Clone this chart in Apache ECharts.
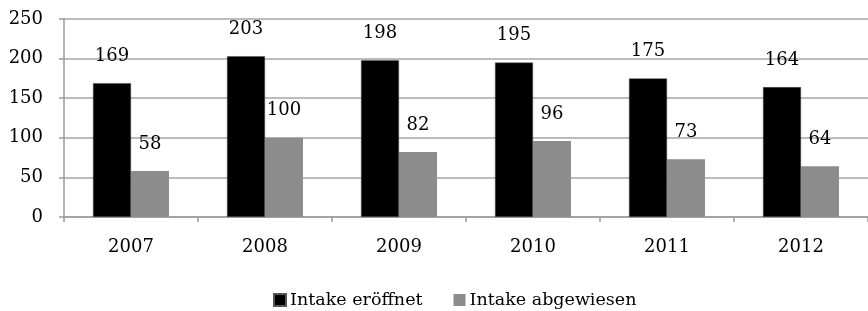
<!DOCTYPE html>
<html>
<head>
<meta charset="utf-8">
<script src="https://cdn.jsdelivr.net/npm/echarts@6/dist/echarts.min.js"></script>
<style>
  html, body { margin: 0; padding: 0; background: #fff; }
  #chart { width: 868px; height: 311px; }
</style>
</head>
<body>
<div id="chart"></div>
<script>
  // Daten aus dem Diagramm
  const years = ['2007', '2008', '2009', '2010', '2011', '2012']
  const eroeffnet = [169, 203, 198, 195, 175, 164]
  const abgewiesen = [58, 100, 82, 96, 73, 64]
  const seriesNames = ['Intake eröffnet', 'Intake abgewiesen']

  const font = '"DejaVu Serif", serif'
  const chart = echarts.init(document.getElementById('chart'))

  const label = {
    show: true,
    position: 'top',
    distance: 18,
    color: '#000',
    fontFamily: font,
    fontSize: 18
  }

  chart.setOption({
    animation: false,
    textStyle: { fontFamily: font },
    grid: { left: 64, right: 0, top: 19, bottom: 94 },
    legend: {
      bottom: 2,
      left: 273,
      padding: 0,
      itemWidth: 12,
      itemHeight: 12,
      itemGap: 31,
      icon: 'rect',
      textStyle: { fontFamily: font, fontSize: 17.5, color: '#000', padding: [0, 0, 0, -1] },
      data: seriesNames
    },
    xAxis: {
      type: 'category',
      data: years,
      axisLine: { lineStyle: { color: '#9a9a9a', width: 1.5 } },
      axisTick: { show: true, length: 5, lineStyle: { color: '#9a9a9a', width: 1.5 } },
      axisLabel: { color: '#000', fontSize: 18, fontFamily: font, margin: 21 }
    },
    yAxis: {
      type: 'value',
      min: 0,
      max: 250,
      interval: 50,
      axisLine: { show: true, lineStyle: { color: '#9a9a9a', width: 1.5 } },
      axisTick: { show: true, length: 5, lineStyle: { color: '#9a9a9a', width: 1.5 } },
      axisLabel: { color: '#000', fontSize: 18, fontFamily: font, margin: 21 },
      splitLine: { lineStyle: { color: '#a6a6a6', width: 1.5 } }
    },
    series: [
      {
        name: seriesNames[0],
        type: 'bar',
        data: eroeffnet,
        barWidth: 38,
        barGap: '0%',
        itemStyle: { color: '#000', borderColor: '#555', borderWidth: 0.5 },
        label: label
      },
      {
        name: seriesNames[1],
        type: 'bar',
        data: abgewiesen,
        barWidth: 38,
        barGap: '0%',
        itemStyle: { color: '#8c8c8c' },
        label: label
      }
    ]
  })
</script>
</body>
</html>
